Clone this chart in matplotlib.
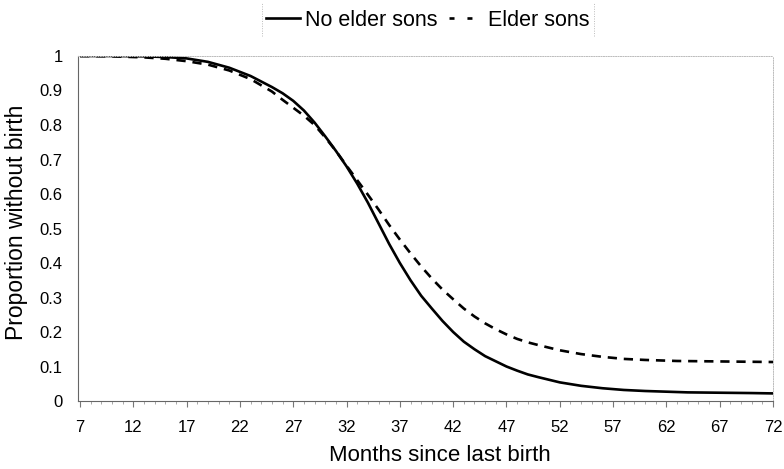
import numpy as np
import matplotlib
matplotlib.use("Agg")
import matplotlib.pyplot as plt
from matplotlib.ticker import MultipleLocator, FixedLocator
from matplotlib.lines import Line2D

# ------------------------- Data -------------------------
months_no = [7, 10, 13, 15, 17, 19, 21, 23, 25, 26, 27, 28, 29, 30, 31, 32, 33,
             34, 35, 36, 37, 38, 39, 40, 41, 42, 43, 44, 45, 46, 47, 48, 49, 50,
             52, 54, 56, 58, 60, 62, 64, 67, 70, 72]
no_elder_sons = [1.0, 1.0, 0.999, 0.997, 0.993, 0.983, 0.966, 0.942, 0.91, 0.892,
                 0.87, 0.842, 0.807, 0.767, 0.725, 0.68, 0.63, 0.575, 0.515, 0.455,
                 0.40, 0.35, 0.305, 0.268, 0.232, 0.20, 0.172, 0.15, 0.13, 0.115,
                 0.10, 0.088, 0.077, 0.069, 0.054, 0.044, 0.037, 0.032, 0.029,
                 0.027, 0.025, 0.024, 0.023, 0.022]

months_el = [7, 10, 13, 15, 17, 19, 21, 23, 25, 26, 27, 28, 29, 30, 31, 32, 33,
             34, 35, 36, 37, 38, 39, 40, 41, 42, 43, 44, 45, 46, 47, 48, 49, 50,
             52, 54, 56, 58, 60, 63, 66, 69, 72]
elder_sons = [1.0, 0.999, 0.996, 0.992, 0.985, 0.975, 0.958, 0.933, 0.897, 0.873,
              0.85, 0.827, 0.80, 0.764, 0.725, 0.682, 0.64, 0.598, 0.555, 0.51,
              0.468, 0.428, 0.39, 0.355, 0.323, 0.295, 0.268, 0.245, 0.225,
              0.208, 0.193, 0.18, 0.17, 0.162, 0.147, 0.136, 0.128, 0.122,
              0.119, 0.116, 0.115, 0.114, 0.113]

x_ticks = list(range(7, 73, 5))
y_ticks = [0, 0.1, 0.2, 0.3, 0.4, 0.5, 0.6, 0.7, 0.8, 0.9, 1]
y_tick_labels = ["0", "0.1", "0.2", "0.3", "0.4", "0.5", "0.6", "0.7", "0.8", "0.9", "1"]

# ------------------------- Plot -------------------------
plt.rcParams["font.family"] = ["Liberation Sans", "DejaVu Sans"]

fig = plt.figure(figsize=(7.84, 4.69), dpi=100)
ax = fig.add_axes([78 / 784, 1 - 401 / 469, (773 - 78) / 784, (401 - 56) / 469])

ax.plot(months_no, no_elder_sons, color="black", lw=1.9, solid_capstyle="butt")
ax.plot(months_el, elder_sons, color="black", lw=1.9, dashes=(3.5, 2.6))

ax.set_xlim(6.81, 72.0)
ax.set_ylim(0, 1)

ax.xaxis.set_major_locator(FixedLocator(x_ticks))
ax.xaxis.set_minor_locator(MultipleLocator(1))
ax.set_yticks(y_ticks)
ax.set_yticklabels(y_tick_labels)

ax.tick_params(axis="x", which="major", length=4, width=0.8, color="#777777",
               direction="out", labelsize=12, pad=9.5)
ax.tick_params(axis="x", which="minor", length=2.5, width=0.6, color="#999999",
               direction="out")
ax.tick_params(axis="y", length=0, labelsize=12, pad=11)

for side in ["left", "bottom"]:
    ax.spines[side].set_color("#666666")
    ax.spines[side].set_linewidth(0.8)
for side in ["top", "right"]:
    ax.spines[side].set_color("#bbbbbb")
    ax.spines[side].set_linewidth(0.7)
    ax.spines[side].set_linestyle((0, (1, 1.5)))

ax.set_xlabel("Months since last birth", fontsize=16)
ax.xaxis.set_label_coords((440 - 78) / (773 - 78), -0.127)
ax.set_ylabel("Proportion without birth", fontsize=16.5)
ax.yaxis.set_label_coords(-0.072, 0.517)

handles = [Line2D([], [], color="black", lw=1.9),
           Line2D([], [], color="black", lw=1.9, dashes=(1.9, 4.9))]
leg = fig.legend(handles, ["No elder sons", "Elder sons"], loc="center",
                 bbox_to_anchor=(428 / 784, 1 - 20 / 469), ncol=2, frameon=False,
                 fontsize=15.5, handlelength=1.55, handletextpad=0.25,
                 columnspacing=0.55)

# dotted side borders of the legend box
for xpx in (262, 594):
    fig.add_artist(Line2D([xpx / 784, xpx / 784], [1 - 36 / 469, 1 - 3 / 469],
                          transform=fig.transFigure, color="#bbbbbb", lw=0.7,
                          linestyle=(0, (1, 1.5))))

fig.savefig("out.png", dpi=100)
